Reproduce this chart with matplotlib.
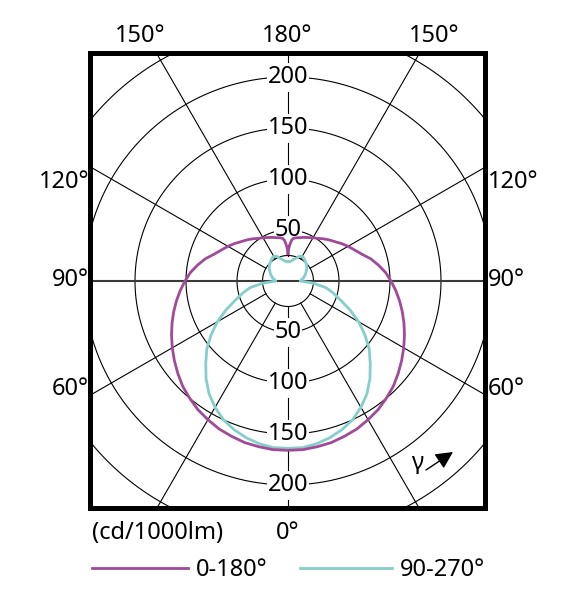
import numpy as np
import matplotlib
matplotlib.use('Agg')
import matplotlib.pyplot as plt
from matplotlib.lines import Line2D
from matplotlib.patches import FancyArrowPatch

plt.rcParams['font.family'] = ['Noto Sans', 'DejaVu Sans']

# ---- data (cd/1000lm) ----
gamma_c0 = [0, 5, 10, 15, 20, 25, 30, 35, 40, 45, 50, 55, 60, 65, 70, 75, 80, 85,
            90, 95, 100, 105, 110, 115, 120, 125, 130, 135, 140, 145, 150, 155,
            160, 165, 170, 173, 175, 177, 179, 180]
int_c0 = [166, 166, 165, 164, 162, 160, 157, 154, 150, 146, 141, 136, 131, 126,
          121, 116, 111, 106, 101, 96, 90, 84, 77, 72, 68, 64, 60, 57, 54, 51,
          49, 47, 45.5, 44, 43, 42, 40, 36, 31, 27]

gamma_c90 = [0, 5, 10, 15, 20, 25, 30, 35, 40, 45, 50, 55, 60, 65, 70, 75, 80,
             85, 90, 95, 100, 110, 120, 130, 140, 148, 155, 160, 165, 170, 175, 180]
int_c90 = [164, 164, 162, 159, 155, 150, 143, 135, 125, 114, 104, 92, 80, 67,
           55, 46, 38, 25, 12, 13, 15, 18, 21, 24, 26, 28, 27, 24, 22, 20, 19, 19]

ring_values = [25, 50, 100, 150, 200, 250]
label_values = [50, 100, 150, 200]
spoke_angles = list(range(0, 360, 30))
legend_labels = ['0-180°', '90-270°']

MAG = '#a04a98'
CYA = '#86cec9'

W, H = 581, 600
def fx(px):
    return px / W
def fy(py):
    return 1 - py / H

fig = plt.figure(figsize=(W / 100, H / 100), dpi=100)
ax = fig.add_axes([fx(90), fy(508), (485 - 90) / W, (508 - 53) / H])
S = 1.02  # px per unit
ax.set_xlim(-198 / S, 197 / S)
ax.set_ylim(-227 / S, 228 / S)
ax.set_xticks([])
ax.set_yticks([])
for sp in ax.spines.values():
    sp.set_linewidth(3.6)
    sp.set_color('black')
    sp.set_zorder(10)

# rings
t = np.linspace(0, 2 * np.pi, 721)
for r in ring_values:
    ax.plot(r * np.cos(t), r * np.sin(t), color='black', lw=0.8, zorder=1)

# spokes
RMAX = 400
for a in spoke_angles:
    ar = np.deg2rad(a)
    if a % 180 == 90:
        continue
    if a % 180 == 0:
        sgn = -1 if a == 0 else 1
        bounds = [25]
        for v in label_values:
            bounds += [v - 15, v + 15]
        bounds.append(RMAX)
        for i in range(0, len(bounds), 2):
            ax.plot([0, 0], [sgn * bounds[i], sgn * bounds[i + 1]],
                    color='black', lw=0.8, zorder=1)
    else:
        ax.plot([25 * np.sin(ar), RMAX * np.sin(ar)],
                [-25 * np.cos(ar), -RMAX * np.cos(ar)],
                color='black', lw=0.8, zorder=1)
ax.plot([-RMAX, RMAX], [0, 0], color='#3a3a3a', lw=1.5, zorder=1)

fs = 17
for v in label_values:
    for sgn in (1, -1):
        ax.text(0, sgn * v, str(v), ha='center', va='center', fontsize=fs,
                zorder=3,
                bbox=dict(facecolor='white', edgecolor='none',
                          boxstyle='square,pad=0.03'))

def draw_curve(g, r, color):
    g = np.asarray(g, float)
    r = np.asarray(r, float)
    gf = np.concatenate([-g[::-1], g[1:]])
    rf = np.concatenate([r[::-1], r[1:]])
    gr = np.deg2rad(gf)
    ax.plot(rf * np.sin(gr), -rf * np.cos(gr), color=color, lw=2.0,
            zorder=4, solid_joinstyle='round')

draw_curve(gamma_c90, int_c90, CYA)
draw_curve(gamma_c0, int_c0, MAG)

fig.text(fx(140), fy(42), '150°', ha='center', va='baseline', fontsize=fs)
fig.text(fx(287), fy(42), '180°', ha='center', va='baseline', fontsize=fs)
fig.text(fx(434), fy(42), '150°', ha='center', va='baseline', fontsize=fs)
for lab, py in [('120°', 188), ('90°', 286), ('60°', 395)]:
    fig.text(fx(89), fy(py), lab, ha='right', va='baseline', fontsize=fs)
    fig.text(fx(488), fy(py), lab, ha='left', va='baseline', fontsize=fs)

fig.text(fx(92), fy(539), '(cd/1000lm)', ha='left', va='baseline', fontsize=fs)
fig.text(fx(288), fy(539), '0°', ha='center', va='baseline', fontsize=fs)

fig.add_artist(Line2D([fx(92), fx(188)], [fy(568), fy(568)], color=MAG, lw=2.0,
                      transform=fig.transFigure))
fig.text(fx(196), fy(576), legend_labels[0], ha='left', va='baseline', fontsize=fs)
fig.add_artist(Line2D([fx(300), fx(392)], [fy(568), fy(568)], color=CYA, lw=2.0,
                      transform=fig.transFigure))
fig.text(fx(400), fy(576), legend_labels[1], ha='left', va='baseline', fontsize=fs)

fig.text(fx(417), fy(463), 'γ', ha='center', va='center', fontsize=fs)
arr = FancyArrowPatch((fx(426), fy(470)), (fx(453), fy(452)),
                      transform=fig.transFigure,
                      arrowstyle='-|>,head_length=0.8,head_width=0.4',
                      mutation_scale=13, color='black', lw=1.0,
                      shrinkA=0, shrinkB=0)
fig.add_artist(arr)

fig.savefig('out.png', dpi=100)
